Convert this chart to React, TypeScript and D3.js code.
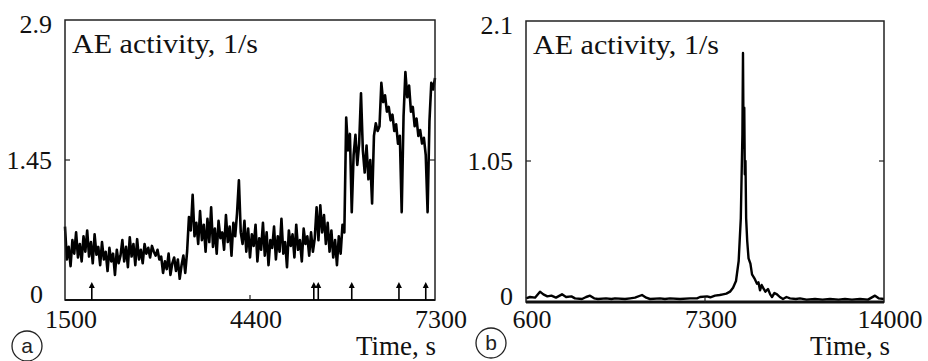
import React from 'react';
import * as d3 from 'd3';

// ---------- data ----------
const panelATicksY = [0, 1.45, 2.9];
const panelATicksX = [1500, 4400, 7300];
const panelBTicksY = [0, 1.05, 2.1];
const panelBTicksX = [600, 7300, 14000];

const seriesAStart = 1500;
const seriesAStep = 29; // s between samples
const seriesA = [
  0.76, 0.42, 0.55, 0.35, 0.62, 0.48, 0.70, 0.44, 0.58, 0.40, 0.66, 0.50, 0.72, 0.45, 0.60, 0.38, 0.68, 0.47,
  0.55, 0.36, 0.60, 0.42, 0.50, 0.30, 0.54, 0.40, 0.48, 0.26, 0.52, 0.38, 0.46,
  0.62, 0.40, 0.55, 0.34, 0.65, 0.45, 0.58, 0.36, 0.63, 0.42, 0.52, 0.38,
  0.58, 0.48, 0.54, 0.44, 0.56, 0.50, 0.46, 0.52, 0.42,
  0.45, 0.28, 0.40, 0.32, 0.48, 0.26, 0.38, 0.44, 0.30, 0.42, 0.22, 0.36, 0.46, 0.28, 0.50,
  0.86, 0.72, 1.09, 0.66, 0.80, 0.58, 0.92, 0.62, 0.78, 0.50, 0.84, 0.60, 0.96, 0.55, 0.74, 0.48, 0.82, 0.64, 0.70, 0.52, 0.88, 0.60, 0.76, 0.46, 0.80, 0.66, 0.90,
  1.24,
  0.70, 0.58, 0.82, 0.50, 0.74, 0.44, 0.68, 0.56, 0.78, 0.40, 0.64, 0.52, 0.80, 0.46, 0.70, 0.36, 0.62, 0.54, 0.76, 0.42,
  0.66, 0.50, 0.84, 0.48, 0.60, 0.34, 0.72, 0.56, 0.68, 0.44, 0.78, 0.52, 0.62, 0.40, 0.74, 0.58, 0.66, 0.46, 0.70, 0.50, 0.64,
  0.96, 0.62, 0.98, 0.70, 0.88,
  0.58, 0.80, 0.50, 0.72, 0.44, 0.62, 0.36, 0.66, 0.48, 0.78, 0.70,
  1.89, 1.55, 1.72, 0.91, 1.50, 1.71, 1.40, 1.62, 2.14, 1.55, 1.32, 1.60, 1.25, 1.45, 1.00, 1.70, 1.83, 1.75, 1.80,
  2.25, 2.05, 2.12, 1.95, 2.00, 1.86, 1.92, 1.75, 1.82, 1.62, 1.70, 0.91, 1.90, 2.36, 2.10, 2.22, 1.95, 2.00, 1.80,
  1.88, 1.70, 1.76, 1.62, 1.68, 1.50, 0.91, 1.85, 2.25, 2.18, 2.30,
];
const arrowTimes = [1920, 5400, 5470, 5995, 6735, 7155];

const seriesBTimes = [
  600, 750, 937, 1124, 1250, 1400, 1550, 1723, 1947, 2100, 2300, 2434, 2696, 2850, 2996, 3150, 3295, 3594, 3800, 3931,
  4306, 4500, 4680, 4942, 5100, 5241, 5616, 5800, 5990, 6364, 6738, 7000, 7113, 7375, 7500, 7674, 7850, 7974, 8100, 8236,
  8350, 8460, 8560, 8640, 8700, 8722, 8745, 8770, 8790, 8815, 8840, 8880, 8930, 9000, 9060, 9150, 9246, 9300, 9359, 9420,
  9471, 9560, 9658, 9740, 9808, 9900, 9995, 10100, 10220, 10350, 10482, 10700, 10856, 11100, 11418, 11700, 11979, 12300,
  12540, 12800, 13102, 13400, 13663, 13800, 14000,
];
const seriesBValues = [
  0.02, 0.03, 0.025, 0.07, 0.05, 0.035, 0.04, 0.025, 0.05, 0.03, 0.035, 0.02, 0.015, 0.03, 0.04, 0.02, 0.015, 0.02, 0.015, 0.02,
  0.015, 0.02, 0.025, 0.045, 0.025, 0.015, 0.02, 0.015, 0.02, 0.015, 0.02, 0.02, 0.03, 0.035, 0.028, 0.04, 0.045, 0.05, 0.055, 0.07,
  0.10, 0.15, 0.30, 0.62, 1.25, 1.86, 1.15, 1.45, 0.95, 1.05, 0.62, 0.45, 0.32, 0.28, 0.20, 0.17, 0.13, 0.14, 0.08, 0.12,
  0.10, 0.07, 0.09, 0.05, 0.03, 0.06, 0.05, 0.03, 0.015, 0.03, 0.02, 0.015, 0.02, 0.01, 0.015, 0.01, 0.015, 0.01,
  0.015, 0.01, 0.015, 0.01, 0.04, 0.02, 0.015,
];

const titleText = 'AE activity, 1/s';
const xTitle = 'Time, s';

// ---------- layout ----------
const W = 928;
const H = 361;
const serif = '"Liberation Serif", "Times New Roman", serif';
const sans = '"Liberation Sans", Arial, sans-serif';

type PanelProps = {
  x0: number; x1: number; y0: number; y1: number; yZero: number;
  xDomain: [number, number]; yDomain: [number, number];
  xTicks: number[]; yTicks: number[];
  points: [number, number][];
  arrows?: number[];
  letter: string; letterX: number; letterY: number;
  xTitleX: number;
  bottomWidth: number;
  traceWidth: number;
  zeroLabelDx: number;
};

function Panel(p: PanelProps) {
  const x = d3.scaleLinear().domain(p.xDomain).range([p.x0, p.x1]);
  const y = d3.scaleLinear().domain(p.yDomain).range([p.yZero, p.y0]);
  const line = d3.line<[number, number]>().x(d => x(d[0])).y(d => y(d[1]));
  const midY = p.yTicks[1];
  const midX = p.xTicks[1];
  return (
    <g>
      <path d={line(p.points) || ''} fill="none" stroke="#000" strokeWidth={p.traceWidth} strokeLinejoin="round" />
      <rect x={p.x0} y={p.y0} width={p.x1 - p.x0} height={p.y1 - p.y0} fill="none" stroke="#222" strokeWidth={1.5} />
      <line x1={p.x0} x2={p.x1} y1={p.y1} y2={p.y1} stroke="#111" strokeWidth={p.bottomWidth} />
      {/* inner mid ticks */}
      <line x1={p.x0} x2={p.x0 + 5} y1={y(midY)} y2={y(midY)} stroke="#222" strokeWidth={1.2} />
      <line x1={p.x1} x2={p.x1 - 5} y1={y(midY)} y2={y(midY)} stroke="#222" strokeWidth={1.2} />
      <line x1={x(midX)} x2={x(midX)} y1={p.y1} y2={p.y1 - 5} stroke="#222" strokeWidth={1.2} />
      {p.yTicks.map(v => {
        const base = Math.max(p.y0 + 13, Math.min(y(v) + 9, p.y1 + 3));
        const lx = p.x0 - 13 - (v === 0 ? p.zeroLabelDx : 0);
        return (
          <text key={'y' + v} x={lx} y={base} textAnchor="end" fontFamily={serif} fontSize={26} fill="#111">
            {String(v)}
          </text>
        );
      })}
      {p.xTicks.map(v => (
        <text key={'x' + v} x={x(v) + 6} y={328} textAnchor="middle" fontFamily={serif} fontSize={26} fill="#111">
          {String(v)}
        </text>
      ))}
      {(p.arrows || []).map((t, i) => {
        const ax = x(t);
        return (
          <g key={'a' + i}>
            <line x1={ax} x2={ax} y1={p.y1} y2={p.y1 - 15} stroke="#000" strokeWidth={1.6} />
            <path d={`M${ax - 3},${p.y1 - 12} L${ax},${p.y1 - 18} L${ax + 3},${p.y1 - 12} Z`} fill="#000" />
          </g>
        );
      })}
      <text x={p.x0 + 7} y={p.y0 + 33} fontFamily={serif} fontSize={27} fill="#111" textLength={186} lengthAdjust="spacingAndGlyphs">
        {titleText}
      </text>
      <text x={p.xTitleX} y={355} fontFamily={serif} fontSize={27} fill="#111">
        {xTitle}
      </text>
      <circle cx={p.letterX} cy={p.letterY} r={15} fill="none" stroke="#222" strokeWidth={1.3} />
      <text x={p.letterX} y={p.letterY + 7} textAnchor="middle" fontFamily={sans} fontSize={21} fill="#222">
        {p.letter}
      </text>
    </g>
  );
}

export default function App() {
  const pointsA: [number, number][] = seriesA.map((v, i) => [seriesAStart + i * seriesAStep, v]);
  const pointsB: [number, number][] = seriesBTimes.map((t, i) => [t, seriesBValues[i]]);
  return (
    <svg width={W} height={H} style={{ position: 'absolute', left: 0, top: 0, background: '#fff' }}>
      <rect width={W} height={H} fill="#fff" />
      <Panel
        x0={65} x1={435} y0={20} y1={300} yZero={300}
        xDomain={[1500, 7300]} yDomain={[0, 2.9]}
        xTicks={panelATicksX} yTicks={panelATicksY}
        points={pointsA} arrows={arrowTimes}
        letter="a" letterX={27} letterY={346} xTitleX={356} bottomWidth={2} traceWidth={2.6}
        zeroLabelDx={9}
      />
      <Panel
        x0={526} x1={884} y0={21} y1={302} yZero={301}
        xDomain={[600, 14000]} yDomain={[0, 2.1]}
        xTicks={panelBTicksX} yTicks={panelBTicksY}
        points={pointsB}
        letter="b" letterX={491} letterY={343} xTitleX={810} bottomWidth={3} traceWidth={2.4}
        zeroLabelDx={0}
      />
    </svg>
  );
}
